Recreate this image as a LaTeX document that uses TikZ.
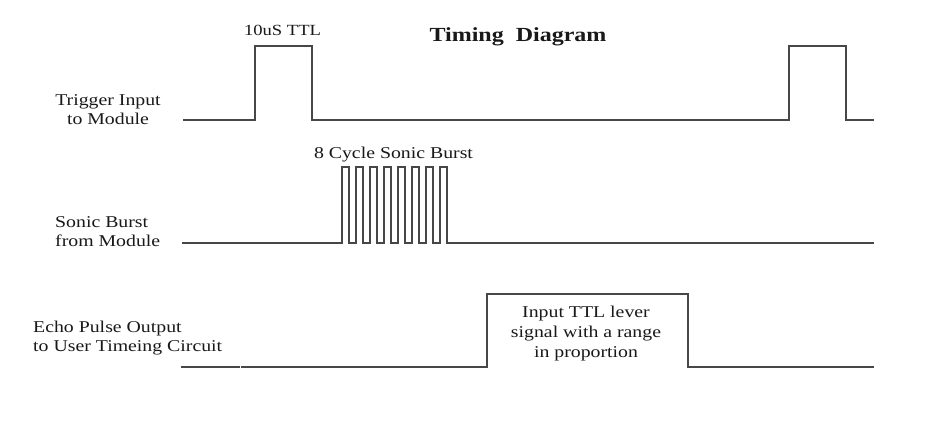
\documentclass[tikz,border=0pt]{standalone}
\usepackage{fontspec}
\setmainfont{Liberation Serif}[FakeStretch=1.2]
\begin{document}
\begin{tikzpicture}[x=1pt,y=-1pt,
  wave/.style={draw=black!72, line width=1.3pt, line join=miter},
  lbl/.style={inner sep=0pt, text=black!90, font=\fontsize{16.5}{19}\selectfont}]
\useasboundingbox (0,0) rectangle (932,423);
\fill[white] (0,0) rectangle (932,423);

% Trigger input
\draw[wave] (183,120) -- (255,120) -- (255,46) -- (312,46) -- (312,120)
  -- (789,120) -- (789,46) -- (846,46) -- (846,120) -- (874,120);

% Sonic burst
\draw[wave] (182,243)
  \foreach \i in {0,...,7} { -- ({342+14*\i},243) -- ({342+14*\i},167)
     -- ({349+14*\i},167) -- ({349+14*\i},243) } -- (874,243);

% Echo pulse
\draw[wave] (181,367) -- (239.5,367);
\draw[wave] (240.5,367) -- (487,367) -- (487,294) -- (688,294) -- (688,367) -- (874,367);

% Labels (multi-line nodes: base = baseline of last line)
\node[lbl, font=\fontsize{15.5}{18}\selectfont, anchor=base] (ttl) at (282.5,35) {10uS TTL};
\node[lbl, font=\fontsize{20}{24}\selectfont\bfseries, anchor=base] (title) at (518,41) {Timing\ \ Diagram};
\node[lbl, anchor=base, align=center] (trig) at (108,124) {Trigger Input\\to Module};
\node[lbl, anchor=base] (burst) at (393.5,158) {8 Cycle Sonic Burst};
\node[lbl, anchor=base west, align=left] (sonic) at (55,246) {Sonic Burst\\from Module};
\node[lbl, anchor=base west, align=left] (echo) at (33,351) {Echo Pulse Output\\to User Timeing Circuit};
\node[lbl, anchor=base, align=center, font=\fontsize{16.5}{20}\selectfont] (range) at (586,357) {Input TTL lever\\signal with a range\\in proportion};
\end{tikzpicture}
\end{document}
